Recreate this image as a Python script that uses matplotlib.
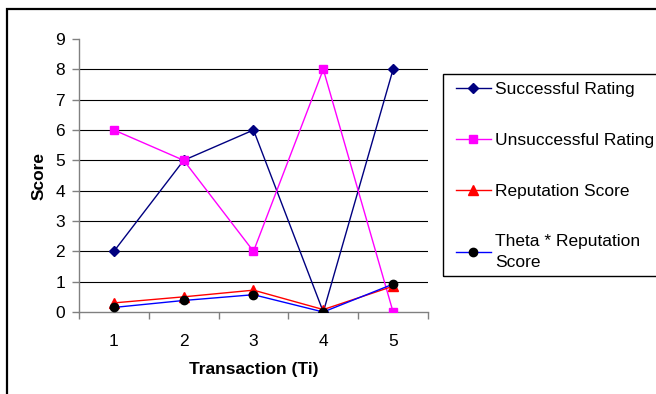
import numpy as np
import matplotlib
matplotlib.use("Agg")
import matplotlib.pyplot as plt
from matplotlib.patches import Rectangle

plt.rcParams['font.family'] = ['Liberation Sans', 'DejaVu Sans']

# Per-transaction values
transactions = [1, 2, 3, 4, 5]
successful = [2, 5, 6, 0, 8]
unsuccessful = [6, 5, 2, 8, 0]
reputation = [0.30, 0.50, 0.72, 0.08, 0.85]
theta_reputation = [0.15, 0.38, 0.57, 0.0, 0.92]

FS = 12.5
W, H = 656, 394
fig = plt.figure(figsize=(W / 100, H / 100), dpi=100)

# plot area in pixel units -> figure fractions
left, right, top, bottom = 79, 428, 39, 312
ax = fig.add_axes([left / W, 1 - bottom / H, (right - left) / W, (bottom - top) / H])

ax.plot(transactions, successful, color="#000080", lw=1, marker="D", ms=5,
        label="Successful Rating", zorder=3)
ax.plot(transactions, unsuccessful, color="#FF00FF", lw=1, marker="s", ms=6,
        label="Unsuccessful Rating", zorder=3)
ax.plot(transactions, reputation, color="#FF0000", lw=1, marker="^", ms=7,
        label="Reputation Score", zorder=4)
ax.plot(transactions, theta_reputation, color="#0000FF", lw=1, marker="o", ms=6,
        mfc="black", mec="black", label="Theta * Reputation\nScore", zorder=5)

ax.set_xlim(0.5, 5.5)
ax.set_ylim(0, 9)
ax.set_yticks(range(0, 10))
ax.set_xticks(transactions)
ax.set_xticks(np.arange(0.5, 6, 1), minor=True)
for y in range(1, 9):
    ax.axhline(y, color="black", lw=0.8, zorder=1)

ax.tick_params(axis="x", which="major", length=0, pad=16, labelsize=FS)
ax.tick_params(axis="x", which="minor", length=5, color="#808080", width=1)
ax.tick_params(axis="y", length=5, color="#808080", width=1, pad=5, labelsize=FS)

for side in ("top", "right"):
    ax.spines[side].set_visible(False)
for side in ("left", "bottom"):
    ax.spines[side].set_color("#808080")
    ax.spines[side].set_linewidth(1)

ax.set_xlabel("Transaction (Ti)", fontweight="bold", fontsize=FS, labelpad=9)
ax.set_ylabel("Score", fontweight="bold", fontsize=FS, labelpad=6)

# legend with its own box
handles, labels = ax.get_legend_handles_labels()
leg = fig.legend(handles, labels, loc="upper left",
                 bbox_to_anchor=(449 / W, 1 - 75 / H), frameon=False,
                 fontsize=FS, labelspacing=2.05, handlelength=2.0,
                 handletextpad=0.25, borderaxespad=0)
leg.get_texts()[3].set_linespacing(1.5)
fig.add_artist(Rectangle((443 / W, 1 - 276 / H), 0.5, (276 - 74) / H,
                         transform=fig.transFigure, fill=False,
                         edgecolor="black", lw=1))

# outer frame
fig.add_artist(Rectangle((7 / W, -0.2), 1.2, 1.2 - 9 / H,
                         transform=fig.transFigure, fill=False,
                         edgecolor="black", lw=1.6))

fig.savefig("out.png", dpi=100)
